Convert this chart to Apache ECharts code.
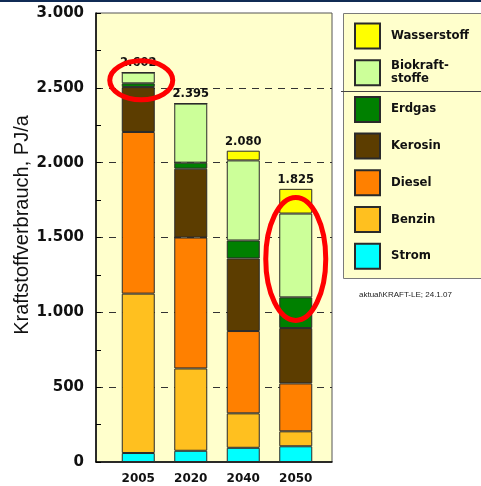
<!DOCTYPE html>
<html>
<head>
<meta charset="utf-8">
<script src="https://cdn.jsdelivr.net/npm/echarts@6/dist/echarts.min.js"></script>
<style>
  html, body { margin: 0; padding: 0; background: #ffffff; }
  #chart { width: 481px; height: 486px; }
</style>
</head>
<body>
<div id="chart"></div>
<script>
// Kraftstoffverbrauch nach Energieträgern, PJ/a
const years = ['2005', '2020', '2040', '2050'];
const strom = [60, 75, 95, 105];
const benzin = [1065, 550, 230, 100];
const diesel = [1080, 875, 550, 320];
const kerosin = [300, 460, 485, 370];
const erdgas = [25, 40, 120, 205];
const biokraftstoffe = [72, 395, 535, 560];
const wasserstoff = [0, 0, 65, 165];

const BOLD = 'DejaVu Sans';
const ink = '#111';
const Y_MAX = 3000;

// thousands separator with a dot, e.g. 2500 -> "2.500"
function fmt(v) {
  const s = String(Math.round(v));
  return s.replace(/\B(?=(\d{3})+(?!\d))/g, '.');
}

const totals = years.map((_, i) =>
  strom[i] + benzin[i] + diesel[i] + kerosin[i] + erdgas[i] + biokraftstoffe[i] + wasserstoff[i]);

const layers = [
  { name: 'Strom', data: strom, color: '#00FFFF' },
  { name: 'Benzin', data: benzin, color: '#FFC01F' },
  { name: 'Diesel', data: diesel, color: '#FF8000' },
  { name: 'Kerosin', data: kerosin, color: '#5C3D00' },
  { name: 'Erdgas', data: erdgas, color: '#008000' },
  { name: 'Biokraftstoffe', data: biokraftstoffe, color: '#CCFF99' },
  { name: 'Wasserstoff', data: wasserstoff, color: '#FFFF00' }
];

const series = layers.map((l, k) => {
  const s = {
    name: l.name,
    type: 'bar',
    stack: 'total',
    xAxisIndex: 1,
    yAxisIndex: 1,
    barWidth: 33,
    data: l.data,
    itemStyle: { color: l.color, borderColor: '#2a2a2a', borderWidth: 1 },
    emphasis: { disabled: true },
    animation: false
  };
  if (k === layers.length - 1) {
    s.label = {
      show: true,
      position: 'top',
      distance: 3,
      fontFamily: BOLD,
      fontWeight: 'bold',
      fontSize: 11.5,
      color: ink,
      formatter: p => fmt(totals[p.dataIndex])
    };
  }
  return s;
});

const chart = echarts.init(document.getElementById('chart'), null, { renderer: 'canvas' });

chart.setOption({
  animation: false,
  backgroundColor: '#ffffff',
  grid: [
    // plot frame with the value scale
    {
      left: 96, right: 149, top: 13, bottom: 24,
      show: true,
      backgroundColor: '#FFFFCC',
      borderColor: '#555',
      borderWidth: 1
    },
    // band area holding the four columns
    { left: 112, right: 159, top: 13, bottom: 24 }
  ],
  xAxis: [
    {
      gridIndex: 0,
      type: 'value',
      min: 0,
      max: 1,
      axisLine: { show: true, onZero: false, lineStyle: { color: '#000', width: 1.5 } },
      axisTick: { show: false },
      splitLine: { show: false },
      axisLabel: { show: false }
    },
    {
      gridIndex: 1,
      type: 'category',
      data: years,
      axisLine: { show: false },
      axisTick: { show: false },
      splitLine: { show: false },
      axisLabel: {
        fontFamily: BOLD,
        fontWeight: 'bold',
        fontSize: 12,
        color: ink,
        margin: 11
      }
    }
  ],
  yAxis: [
    {
      gridIndex: 0,
      type: 'value',
      min: 0,
      max: Y_MAX,
      interval: 500,
      name: 'Kraftstoffverbrauch, PJ/a',
      nameLocation: 'middle',
      nameGap: 63,
      nameTextStyle: { fontFamily: 'Liberation Sans', fontSize: 20, color: ink, padding: [0, 0, 0, 25] },
      axisLine: { show: true, onZero: false, lineStyle: { color: '#000', width: 1.5 } },
      axisTick: { show: true, inside: true, length: 5, lineStyle: { color: '#000' } },
      minorTick: { show: true, splitNumber: 2, length: 5, lineStyle: { color: '#000' } },
      splitLine: {
        show: true,
        showMaxLine: false,
        showMinLine: false,
        lineStyle: { color: '#333', type: [7, 6], width: 1 }
      },
      axisLabel: {
        formatter: v => fmt(v),
        fontFamily: BOLD,
        fontWeight: 'bold',
        fontSize: 15,
        color: ink,
        margin: 12
      }
    },
    {
      gridIndex: 1,
      type: 'value',
      min: 0,
      max: Y_MAX,
      show: false
    }
  ],
  legend: {
    orient: 'vertical',
    left: 354,
    top: 22.5,
    padding: 0,
    icon: 'rect',
    itemWidth: 25,
    itemHeight: 25,
    itemGap: 9.7,
    selectedMode: false,
    data: ['Wasserstoff', 'Biokraftstoffe', 'Erdgas', 'Kerosin', 'Diesel', 'Benzin', 'Strom'],
    formatter: n => n === 'Biokraftstoffe' ? 'Biokraft-\nstoffe' : n,
    textStyle: {
      fontFamily: BOLD,
      fontWeight: 'bold',
      fontSize: 11.7,
      lineHeight: 12.5,
      color: ink,
      padding: [0, 0, 0, 6]
    }
  },
  series: series
});

// annotation rings around the 2005 top segments and the 2050 alternative fuels
const ringA = chart.convertToPixel({ xAxisIndex: 1, yAxisIndex: 1 }, [0, 2550]);
const ringB = chart.convertToPixel({ xAxisIndex: 1, yAxisIndex: 1 }, [3, 1357]);

chart.setOption({
  graphic: [
    { type: 'rect', z: -1, shape: { x: 0, y: 0, width: 481, height: 2 }, style: { fill: '#102B55' } },
    { type: 'rect', z: 0, shape: { x: 343.5, y: 13.5, width: 150, height: 265 },
      style: { fill: '#FFFFCC', stroke: '#7a7a7a', lineWidth: 1 } },
    { type: 'line', z: 1, shape: { x1: 341, y1: 91.5, x2: 481, y2: 91.5 },
      style: { stroke: '#444', lineWidth: 1 } },
    { type: 'text', z: 1, x: 359, y: 295,
      style: { text: 'aktual\\KRAFT-LE; 24.1.07', font: '8px "Liberation Sans"', fill: '#222', textVerticalAlign: 'middle' } },
    { type: 'ellipse', z: 100, shape: { cx: ringA[0] + 3, cy: ringA[1], rx: 31.5, ry: 19.5 },
      style: { fill: 'none', stroke: '#FF0000', lineWidth: 5 } },
    { type: 'ellipse', z: 100, shape: { cx: ringB[0], cy: ringB[1], rx: 30, ry: 61.5 },
      style: { fill: 'none', stroke: '#FF0000', lineWidth: 5 } }
  ]
});
</script>
</body>
</html>
